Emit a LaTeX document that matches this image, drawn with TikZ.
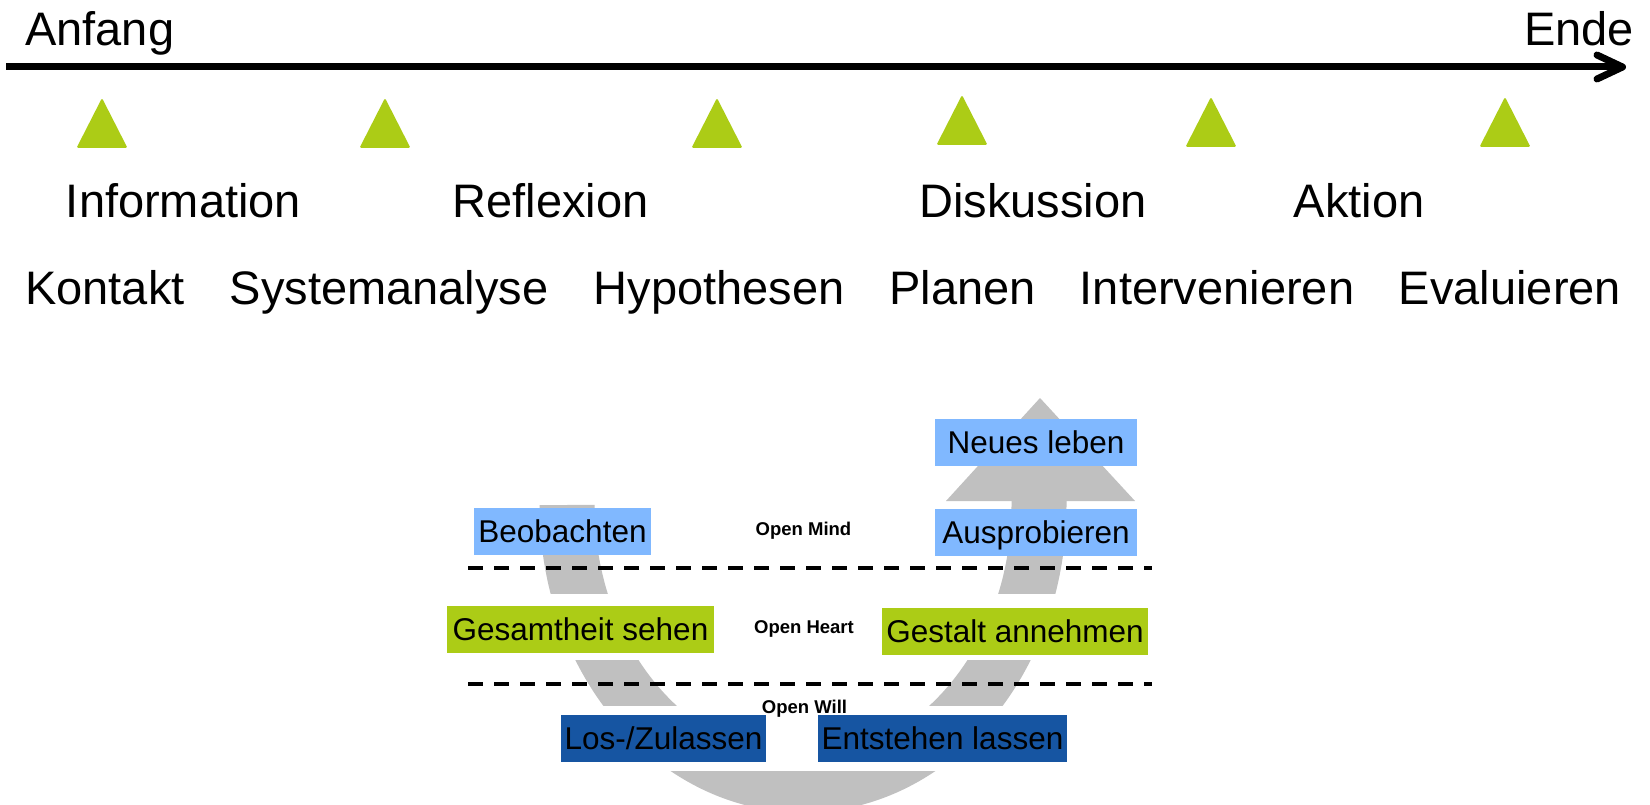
\documentclass[tikz,border=0pt]{standalone}
\usepackage{fontspec}
\setmainfont{Liberation Sans}
\definecolor{tgreen}{RGB}{172,204,22}
\definecolor{lblue}{RGB}{128,184,255}
\definecolor{dblue}{RGB}{22,85,162}
\definecolor{arcgray}{RGB}{192,192,192}
\begin{document}
\begin{tikzpicture}[x=1pt,y=-1pt,
  big/.style={inner sep=0pt, anchor=base, font=\fontsize{47}{56}\selectfont},
  lbox/.style={inner sep=0pt, minimum height=47pt, text height=22.6pt, text depth=0pt, font=\fontsize{31.5}{38}\selectfont},
  lvl/.style={inner sep=0pt, anchor=base, font=\fontsize{18.5}{22}\selectfont\bfseries},
  marker/.style={fill=tgreen, rounded corners=1.5pt},
  dashline/.style={line width=4pt, dash pattern=on 15pt off 11pt},
  band/.style={arcgray, line width=55pt}
]
\useasboundingbox (0,0) rectangle (1650,805);
\fill[white] (0,0) rectangle (1650,805);
\clip (0,0) rectangle (1650,805);

% timeline
\node[big, anchor=base west] (anfang) at (25,46) {Anfang};
\node[big] (ende) at (1579,46) {Ende};
\coordinate (axstart) at (6,67);
\coordinate (axtip) at (1622.5,67);
\coordinate (barbup) at (1597,55);
\coordinate (barbdn) at (1597,79);
\draw[line width=7pt] (axstart) -- (axtip);
\draw[line width=7pt, line cap=round, line join=round] (barbup) -- (axtip) -- (barbdn);

% markers
\foreach \cx/\ty in {102/98, 385/98, 717/98, 962/95, 1211/97, 1505/97}
  \fill[marker] ({\cx-25.5},{\ty+50}) -- (\cx,\ty) -- ({\cx+25.5},{\ty+50}) -- cycle;

% labels row 1
\node[big] (info) at (183.5,218) {Information};
\node[big] (refl) at (550.5,218) {Reflexion};
\node[big] (disk) at (1033,218) {Diskussion};
\node[big] (akt) at (1359,218) {Aktion};
% labels row 2
\node[big] (kont) at (105,305) {Kontakt};
\node[big] (sys) at (389,305) {Systemanalyse};
\node[big] (hyp) at (719,305) {Hypothesen};
\node[big] (plan) at (962.5,305) {Planen};
\node[big] (interv) at (1217,305) {Intervenieren};
\node[big] (eval) at (1510,305) {Evaluieren};

% U-shaped gray arrow
\coordinate (ustart) at (567,505);
\coordinate (uend) at (1039,500);
\draw[band] (ustart) arc[start angle=180, end angle=0, x radius=236, y radius=280] -- (uend);
\fill[arcgray] (946,501) -- (1040,398) -- (1135,501) -- cycle;

% white strips hiding the arrow
\fill[white] (440,594) rectangle (1160,660);
\fill[white] (440,706) rectangle (1160,771);

% dashed separators
\coordinate (d1a) at (468,568);
\coordinate (d1b) at (1152,568);
\coordinate (d2a) at (468,684);
\coordinate (d2b) at (1152,684);
\draw[dashline] (d1a) -- (d1b);
\draw[dashline] (d2a) -- (d2b);

% level labels
\node[lvl] (mind) at (803.5,535) {Open Mind};
\node[lvl] (heart) at (804,633) {Open Heart};
\node[lvl] (will) at (804.5,713) {Open Will};

% boxes
\node[lbox, fill=lblue, minimum width=202pt] (neues) at (1036,442.5) {Neues leben};
\node[lbox, fill=lblue, minimum width=202pt] (auspro) at (1036,532.5) {Ausprobieren};
\node[lbox, fill=lblue, minimum width=177pt] (beob) at (562.5,531.5) {Beobachten};
\node[lbox, fill=tgreen, minimum width=267pt] (gesamt) at (580.5,629.5) {Gesamtheit sehen};
\node[lbox, fill=tgreen, minimum width=266pt] (gestalt) at (1015,631.5) {Gestalt annehmen};
\node[lbox, fill=dblue, minimum width=205pt] (los) at (663.5,738.5) {Los-/Zulassen};
\node[lbox, fill=dblue, minimum width=249pt] (entst) at (942.5,738.5) {Entstehen lassen};
\end{tikzpicture}
\end{document}
